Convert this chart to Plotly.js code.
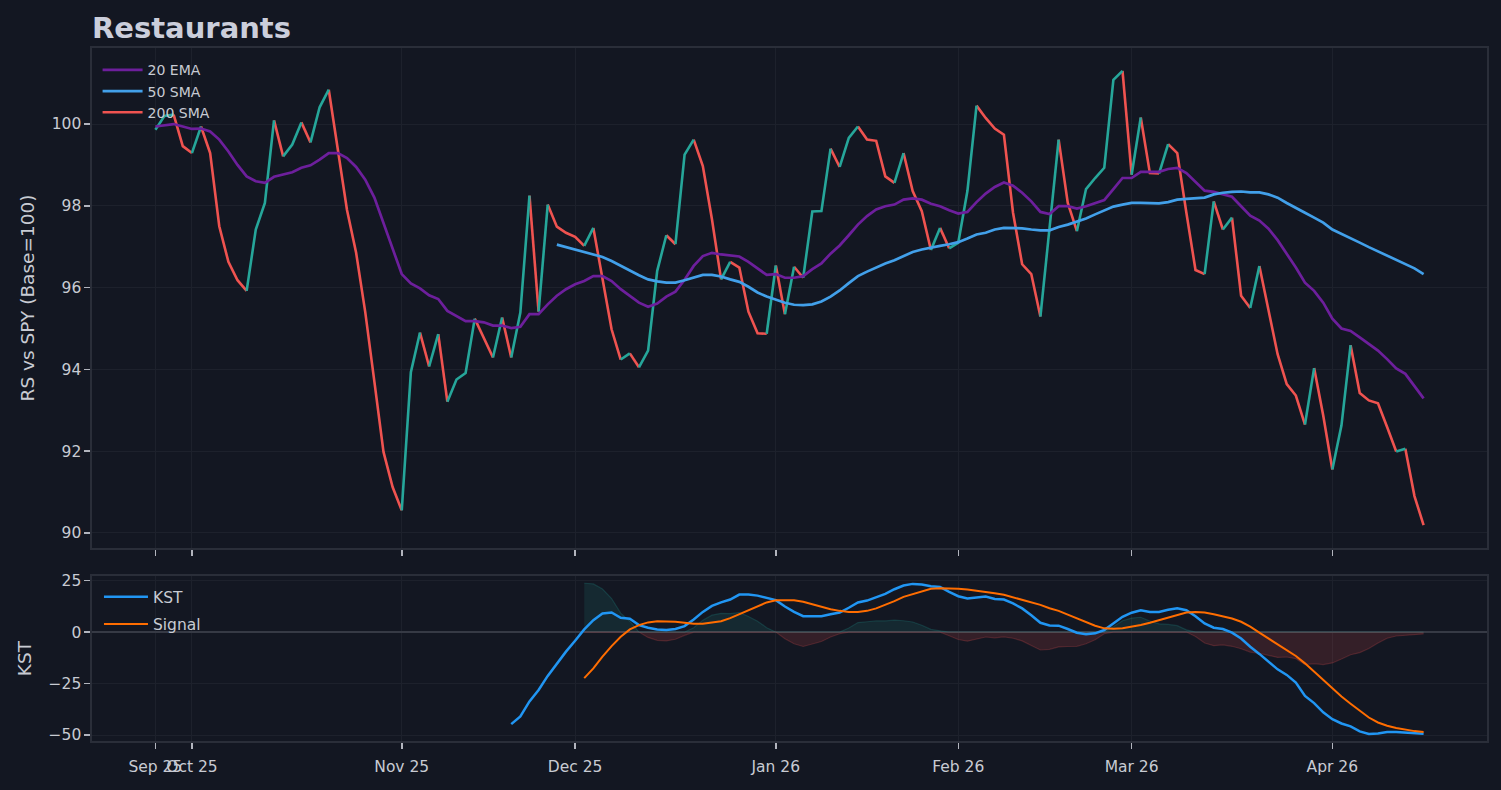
<!DOCTYPE html>
<html>
<head>
<meta charset="utf-8">
<script src="https://cdn.plot.ly/plotly-3.0.1.min.js"></script>
<style>
  html, body { margin: 0; padding: 0; background: #131722; }
  #chart { width: 1501px; height: 790px; }
</style>
</head>
<body>
<div id="chart"></div>
<script>
// trading-day index 0..139 (Sep 25 2025 -> Apr 16 2026)
var tickIdx = [0, 4, 27, 46, 68, 88, 107, 129];
var tickLabels = ['Sep 25', 'Oct 25', 'Nov 25', 'Dec 25', 'Jan 26', 'Feb 26', 'Mar 26', 'Apr 26'];

var rs = [
  99.86, 100.2, 100.23, 99.46, 99.29, 99.94, 99.29, 97.5, 96.63, 96.18,
  95.92, 97.42, 98.07, 100.09, 99.21, 99.5, 100.04, 99.55, 100.41, 100.84,
  99.4, 97.9, 96.85, 95.4, 93.7, 91.98, 91.12, 90.55, 93.93, 94.9,
  94.07, 94.86, 93.21, 93.75, 93.91, 95.24, 94.77, 94.29, 95.27, 94.29,
  95.39, 98.25, 95.41, 98.03, 97.49, 97.34, 97.24, 97.02, 97.46, 96.2,
  94.98, 94.24, 94.39, 94.05, 94.46, 96.41, 97.28, 97.06, 99.25, 99.62,
  98.97, 97.67, 96.2, 96.63, 96.49, 95.41, 94.88, 94.87, 96.54, 95.35,
  96.51, 96.24, 97.86, 97.87, 99.4, 98.95, 99.66, 99.94, 99.62, 99.59,
  98.72, 98.56, 99.29, 98.36, 97.87, 96.92, 97.46, 96.96, 97.1, 98.36,
  100.45, 100.15, 99.89, 99.74, 97.83, 96.57, 96.33, 95.29, 97.46, 99.62,
  98.07, 97.38, 98.41, 98.68, 98.93, 101.08, 101.3, 98.76, 100.16, 98.8,
  98.79, 99.51, 99.29, 97.83, 96.43, 96.33, 98.11, 97.42, 97.71, 95.8,
  95.5, 96.53, 95.47, 94.37, 93.64, 93.36, 92.65, 94.03, 92.87, 91.55,
  92.63, 94.59, 93.42, 93.24, 93.17, 92.59, 91.99, 92.06, 90.9, 90.19
];

var ema20 = [
  99.94, 99.97, 100.0, 99.94, 99.88, 99.89, 99.82, 99.62, 99.33, 99.0,
  98.72, 98.6, 98.56, 98.71, 98.76, 98.82, 98.93, 98.99, 99.13, 99.29,
  99.29, 99.17, 98.95, 98.64, 98.2, 97.59, 96.98, 96.33, 96.1, 95.98,
  95.81, 95.72, 95.43, 95.31, 95.18, 95.18, 95.15, 95.07, 95.07, 95.01,
  95.04, 95.35, 95.35, 95.59, 95.8, 95.96, 96.08, 96.16, 96.28, 96.28,
  96.16, 95.96, 95.8, 95.63, 95.53, 95.61, 95.78, 95.9, 96.19, 96.53,
  96.77, 96.85, 96.81, 96.79, 96.76, 96.63, 96.46, 96.31, 96.33, 96.24,
  96.24, 96.28, 96.45, 96.59, 96.83, 97.03, 97.28, 97.54, 97.75, 97.91,
  97.99, 98.03, 98.15, 98.18, 98.15, 98.05, 97.99, 97.89, 97.81, 97.85,
  98.09, 98.3, 98.46, 98.57, 98.49, 98.32, 98.11, 97.85, 97.8, 97.99,
  97.99, 97.93, 97.99, 98.06, 98.14, 98.41, 98.68, 98.68, 98.83, 98.83,
  98.83, 98.9, 98.93, 98.8, 98.58, 98.37, 98.34, 98.28, 98.22, 97.99,
  97.76, 97.64, 97.44, 97.16, 96.83, 96.49, 96.12, 95.92, 95.63, 95.24,
  95.0, 94.94, 94.78, 94.62, 94.46, 94.25, 94.02, 93.89, 93.6, 93.29
];

// 50 SMA starts at index 44
var sma50Start = 44;
var sma50 = [
  97.05, 96.99, 96.93, 96.88, 96.81, 96.75, 96.65, 96.53, 96.41, 96.3,
  96.2, 96.15, 96.12, 96.12, 96.18, 96.24, 96.31, 96.31, 96.27, 96.2,
  96.14, 96.02, 95.88, 95.78, 95.7, 95.63, 95.58, 95.57, 95.59, 95.66,
  95.78, 95.93, 96.11, 96.28, 96.39, 96.49, 96.59, 96.67, 96.77, 96.87,
  96.93, 96.98, 97.02, 97.06, 97.11, 97.2, 97.3, 97.34, 97.42, 97.46,
  97.46, 97.45, 97.42, 97.4, 97.4, 97.48, 97.54, 97.61, 97.69, 97.79,
  97.89, 97.98, 98.03, 98.07, 98.07, 98.07, 98.06, 98.09, 98.15, 98.17,
  98.18, 98.2, 98.28, 98.32, 98.34, 98.35, 98.33, 98.33, 98.28, 98.2,
  98.07, 97.94, 97.83, 97.71, 97.59, 97.42, 97.32, 97.22, 97.1, 96.99,
  96.89, 96.79, 96.69, 96.59, 96.47, 96.33
];

// KST starts at index 39, signal at index 47
var kstStart = 39;
var kst = [
  -44.7, -41, -33.7, -28.1, -21.3, -15.2, -9.5, -4.2, 1.3, 5.8,
  9.0, 9.5, 6.9, 6.5, 3.4, 2.1, 1.3, 1.0, 1.5, 2.9,
  6.1, 9.8, 12.7, 14.4, 15.8, 18.2, 18.2, 17.7, 16.5, 15.5,
  12.4, 9.8, 7.7, 7.7, 7.7, 8.7, 9.5, 11.8, 14.4, 15.3,
  16.9, 18.5, 20.8, 22.6, 23.4, 23.1, 22.3, 21.9, 19.5, 17.4,
  16.3, 16.9, 17.3, 16.1, 15.8, 13.9, 11.5, 8.2, 4.5, 3.2,
  3.1, 1.5, -0.3, -1.0, -0.6, 1.0, 4.2, 7.4, 9.4, 10.6,
  9.8, 9.8, 10.8, 11.6, 10.6, 7.7, 4.2, 2.1, 1.5, -0.3,
  -3.1, -7.1, -10.6, -14.4, -18.1, -20.8, -24.5, -31, -34.5, -39,
  -42.3, -44.4, -45.8, -48.2, -49.5, -49.2, -48.5, -48.5, -48.9, -49.2,
  -49.4
];
var sigStart = 47;
var signal = [
  -22.4, -17.6, -11.9, -6.8, -2.3, 1.3, 3.4, 4.7, 5.3, 5.3,
  5.0, 4.5, 4.0, 4.0, 4.5, 5.3, 6.8, 8.7, 10.6, 12.4,
  14.4, 15.5, 15.6, 15.5, 14.7, 13.5, 12.3, 11.1, 10.3, 9.8,
  9.8, 10.3, 11.5, 13.1, 15.0, 17.1, 18.5, 19.8, 21.0, 21.3,
  21.3, 21.0, 20.7, 20.2, 19.7, 18.9, 18.1, 16.9, 15.8, 14.7,
  13.2, 11.6, 10.3, 8.5, 6.6, 4.7, 3.1, 1.8, 1.6, 1.9,
  2.6, 3.4, 4.5, 5.8, 7.1, 8.5, 9.5, 9.8, 9.5, 8.7,
  7.7, 6.6, 5.0, 2.6, -0.3, -3.1, -5.8, -8.7, -11.6, -15.2,
  -19.2, -23.2, -27.3, -31.3, -34.8, -38.2, -41.5, -43.9, -45.5, -46.6,
  -47.4, -48.1, -48.5
];

var UP = '#26a69a', DOWN = '#ef5350';
var FONT = 'DejaVu Sans, Verdana, sans-serif';
var TXT = '#c8cbd3';

var n = rs.length;
var idx = rs.map(function (_, i) { return i; });

function padded(arr, start) {
  var out = [];
  for (var i = 0; i < n; i++) out.push(i >= start ? arr[i - start] : null);
  return out;
}
var smaFull = padded(sma50, sma50Start);
var kstFull = padded(kst, kstStart);
var sigFull = padded(signal, sigStart);

// split RS into rising / falling runs
function runs(rising) {
  var xs = [], ys = [], last = -2;
  for (var i = 0; i < n - 1; i++) {
    var up = rs[i + 1] >= rs[i];
    if (up !== rising) continue;
    if (last !== i) {
      if (xs.length) { xs.push(null); ys.push(null); }
      xs.push(i); ys.push(rs[i]);
    }
    xs.push(i + 1); ys.push(rs[i + 1]);
    last = i + 1;
  }
  return { x: xs, y: ys };
}
var upRun = runs(true), downRun = runs(false);

// KST minus signal, split into positive and negative areas
var histPos = [], histNeg = [];
for (var i = 0; i < n; i++) {
  if (kstFull[i] === null || sigFull[i] === null) { histPos.push(null); histNeg.push(null); continue; }
  var d = kstFull[i] - sigFull[i];
  histPos.push(d > 0 ? d : 0);
  histNeg.push(d < 0 ? d : 0);
}

var traces = [
  { x: downRun.x, y: downRun.y, type: 'scatter', mode: 'lines', line: { color: DOWN, width: 2.6 },
    showlegend: false, hoverinfo: 'skip', xaxis: 'x', yaxis: 'y' },
  { x: upRun.x, y: upRun.y, type: 'scatter', mode: 'lines', line: { color: UP, width: 2.6 },
    showlegend: false, hoverinfo: 'skip', xaxis: 'x', yaxis: 'y' },
  { x: idx, y: ema20, name: '20 EMA', type: 'scatter', mode: 'lines', line: { color: '#6d1f9c', width: 2.7 },
    xaxis: 'x', yaxis: 'y', legend: 'legend', legendgroup: 'a' },
  { x: idx, y: smaFull, name: '50 SMA', type: 'scatter', mode: 'lines', line: { color: '#42a0ea', width: 2.7 },
    xaxis: 'x', yaxis: 'y', legend: 'legend', legendgroup: 'b' },
  { x: [null], y: [null], name: '200 SMA', type: 'scatter', mode: 'lines', line: { color: DOWN, width: 2.7 },
    xaxis: 'x', yaxis: 'y', legend: 'legend', legendgroup: 'c' },

  { x: idx, y: histPos, type: 'scatter', mode: 'lines', fill: 'tozeroy',
    fillcolor: 'rgba(38,166,154,0.13)', line: { color: 'rgba(38,166,154,0.22)', width: 1.2 },
    showlegend: false, hoverinfo: 'skip', xaxis: 'x2', yaxis: 'y2' },
  { x: idx, y: histNeg, type: 'scatter', mode: 'lines', fill: 'tozeroy',
    fillcolor: 'rgba(239,83,80,0.15)', line: { color: 'rgba(239,83,80,0.22)', width: 1.2 },
    showlegend: false, hoverinfo: 'skip', xaxis: 'x2', yaxis: 'y2' },
  { x: idx, y: kstFull, name: 'KST', type: 'scatter', mode: 'lines', line: { color: '#2196f3', width: 2.5 },
    xaxis: 'x2', yaxis: 'y2', legend: 'legend2', legendgroup: 'd' },
  { x: idx, y: sigFull, name: 'Signal', type: 'scatter', mode: 'lines', line: { color: '#ff6d00', width: 2 },
    xaxis: 'x2', yaxis: 'y2', legend: 'legend2', legendgroup: 'e' }
];

var xCommon = {
  range: [-6.95, 145.95],
  tickmode: 'array', tickvals: tickIdx, ticktext: tickLabels, tickangle: 0,
  ticks: 'outside', ticklen: 6, tickwidth: 1.5, tickcolor: '#b2b5be',
  showgrid: true, gridcolor: '#1d212c', gridwidth: 1,
  showline: true, mirror: true, linecolor: '#2a2e39', linewidth: 1.6,
  zeroline: false, tickfont: { family: FONT, size: 15.5, color: TXT }
};

var layout = {
  width: 1501, height: 790,
  paper_bgcolor: '#131722', plot_bgcolor: '#131722',
  font: { family: FONT, color: TXT },
  margin: { l: 92, r: 14, t: 48, b: 49 },
  title: {
    text: '<b>Restaurants</b>',
    font: { family: FONT, size: 29, color: '#cbcedb' },
    xref: 'paper', x: 0, xanchor: 'left',
    yref: 'container', y: 0.965, yanchor: 'middle', pad: { l: 0 }
  },
  xaxis: Object.assign({}, xCommon, { domain: [0, 1], anchor: 'y', showticklabels: false }),
  xaxis2: Object.assign({}, xCommon, { domain: [0, 1], anchor: 'y2', matches: 'x', showticklabels: true,
    ticklabelstandoff: 5 }),
  yaxis: {
    domain: [0.2785, 1], anchor: 'x', range: [89.63, 101.86],
    tickvals: [90, 92, 94, 96, 98, 100],
    ticks: 'outside', ticklen: 6, tickwidth: 1.5, tickcolor: '#b2b5be',
    showgrid: true, gridcolor: '#1d212c',
    showline: true, mirror: true, linecolor: '#2a2e39', linewidth: 1.6, zeroline: false,
    tickfont: { family: FONT, size: 15.5, color: TXT },
    title: { text: 'RS vs SPY (Base=100)', font: { family: FONT, size: 18.5, color: TXT }, standoff: 12 }
  },
  yaxis2: {
    domain: [0, 0.238], anchor: 'x2', range: [-52.9, 27.2],
    tickvals: [-50, -25, 0, 25],
    ticks: 'outside', ticklen: 6, tickwidth: 1.5, tickcolor: '#b2b5be',
    showgrid: true, gridcolor: '#1d212c',
    showline: true, mirror: true, linecolor: '#2a2e39', linewidth: 1.6,
    zeroline: true, zerolinecolor: '#363a45', zerolinewidth: 2,
    tickfont: { family: FONT, size: 15.5, color: TXT },
    title: { text: 'KST', font: { family: FONT, size: 18.5, color: TXT }, standoff: 12 }
  },
  legend: {
    xref: 'paper', yref: 'paper', x: 0.004, y: 0.991, xanchor: 'left', yanchor: 'top',
    bgcolor: 'rgba(0,0,0,0)', font: { family: FONT, size: 14, color: TXT },
    tracegroupgap: 0, traceorder: 'grouped', itemwidth: 40
  },
  legend2: {
    xref: 'paper', yref: 'paper', x: 0.005, y: 0.232, xanchor: 'left', yanchor: 'top',
    bgcolor: 'rgba(0,0,0,0)', font: { family: FONT, size: 15.5, color: TXT },
    tracegroupgap: 4, traceorder: 'grouped', itemwidth: 44
  },
  showlegend: true,
  hovermode: false
};

Plotly.newPlot('chart', traces, layout, { displayModeBar: false, staticPlot: true });
</script>
</body>
</html>
